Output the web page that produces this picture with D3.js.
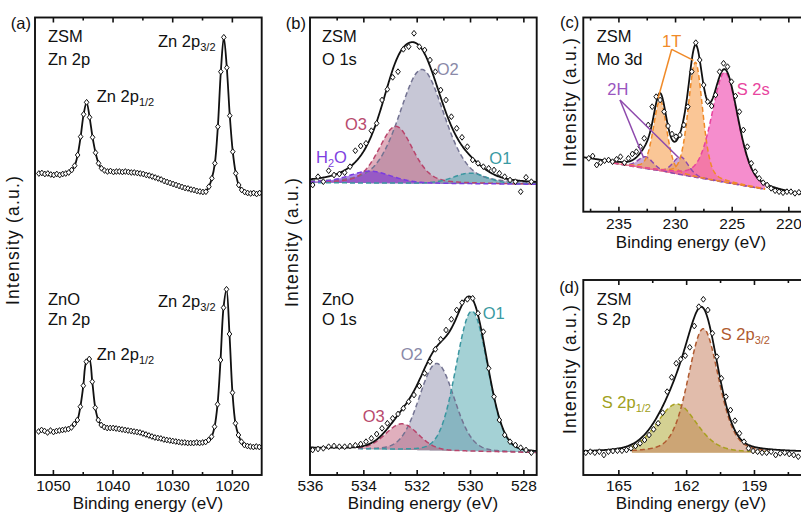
<!DOCTYPE html>
<html>
<head>
<meta charset="utf-8">
<script src="https://cdn.jsdelivr.net/npm/d3@7"></script>
<style>
  body { margin: 0; background: #fff; }
  text { font-family: "Liberation Sans", Arial, Helvetica, sans-serif; }
</style>
</head>
<body>
<svg id="chart" width="801" height="518"></svg>
<script>
// ---------------- Zn 2p survey (panel a) ----------------
const zn2pStep = 0.5;
const zn2pZsmStart = 1052.35;
const zn2pZnoStart = 1052.4;
const zn2pZsm = [51.5,52,51,51.5,50.5,50,51,50,51,51.5,52.5,55,59.3,70,88.3,110.7,122.7,107.7,87.7,72.3,
  61.7,56.7,54.5,53.5,54,53,53.5,53.5,53,53.5,53,52.5,52.5,52,51.5,51,50,49.5,48.5,47.5,
  46.5,45.5,44,43,42,41,40,39,38,37,36.5,35.5,35,34,33.5,33,33.3,38.3,46.7,61.7,
  98.3,153.3,187.7,157.3,109.3,73.3,51.7,40,35,33,32,31.5,32,31,32];
const zn2pZno = [43.5,45,44,42.5,44.5,43,44,44.5,45,45.5,46,47.5,51,55,68.3,89.3,113.3,116,93.3,67.3,
  55,50,48,47,47,47,46.5,46,45.5,45,44.5,44,43.5,43,42.5,41.5,40.5,39.5,38.5,37.5,
  37,36.5,35.5,35,34.5,34,33.5,33,32.5,32.5,32,32,32,32.5,32,32.5,33,35,38.3,48.3,
  70.7,115,167.3,185.7,141,82.3,51.7,40,33.3,30,29,28.5,28,28.5,28];

// ---------------- O 1s (panel b) ----------------
const o1sStep = 0.2;
const o1sStart = 535.9;
const o1sZsm = [25,33.3,28.3,39.3,35,36,37.3,43.3,59.3,64,66.7,79.3,86.7,110,120.7,132.7,138.3,160.7,163.3,176.7,
  163.3,160,150,138.3,120,110,93.3,81.7,72.7,63.3,50,46.7,43.3,41.7,40,36.7,33.3,30,28.3,18.3,32.7,28.3];
const o1sZno = [25,26,26.7,28.3,29,28.3,28.3,29,29.7,31,33.3,36.7,41,46.7,51.7,56.7,61,66.7,73.3,80,
  89,101.7,113.3,125.7,135.7,145,155.7,165,172.3,175.7,176.7,161.7,143.3,106.7,78.3,55,40,33.3,30,27.3,25,22.3];
// fitted components: centre (eV), height (a.u.), FWHM (eV), Lorentzian fraction
const o1sZsmPeaks = [
  { label: "O2",  center: 531.81, height: 114,  fwhm: 2.0, mix: 0.3 },
  { label: "O3",  center: 532.78, height: 57,   fwhm: 1.5, mix: 0.3 },
  { label: "O1",  center: 530.0,  height: 10.7, fwhm: 1.5, mix: 0.3 },
  { label: "H2O", center: 533.75, height: 12,   fwhm: 1.9, mix: 0.3 }
];
const o1sZnoPeaks = [
  { label: "O2", center: 531.25, height: 87,  fwhm: 1.55, mix: 0.1 },
  { label: "O1", center: 529.93, height: 140, fwhm: 1.4,  mix: 0.1 },
  { label: "O3", center: 532.55, height: 26,  fwhm: 1.45, mix: 0.1 }
];
const o1sZsmBackground = [[536, 27.3], [527.5, 25.7]];
const o1sZnoBackground = [[536, 27], [527.5, 22.5]];

// ---------------- Mo 3d (panel c) ----------------
const mo3dStep = 0.35;
const mo3dStart = 237.62;
const mo3dZsm = [53.4,55.7,46.7,49,51,51.7,50,52.4,55,49,53.4,57.7,60,65,73.4,86.7,105,115,111.7,100,
  85.7,77.7,75,76.7,86.7,105,140,169,151.7,126.7,110,105.7,116.7,140,148.4,145,130,115.7,100,81.7,
  65,48.4,40,33.4,29,26.7,23.4,21,20,19,20,20,18.4,19.4];
const mo3dPeaks = [
  { label: "2H",   center: 232.6,  height: 12,  fwhm: 1.6, mix: 0.3 },
  { label: "2H",   center: 229.5,  height: 18,  fwhm: 1.6, mix: 0.3 },
  { label: "1T",   center: 231.32, height: 71,  fwhm: 1.4, mix: 0.3 },
  { label: "1T",   center: 228.2,  height: 115, fwhm: 1.5, mix: 0.3 },
  { label: "S 2s", center: 225.6,  height: 110, fwhm: 2.7, mix: 0.3 }
];
const mo3dBackground = [[235.44, 48.4], [222.05, 22.4]];

// ---------------- S 2p (panel d) ----------------
const s2pStep = 0.2;
const s2pStart = 166.44;
const s2pZsm = [22.3,23.3,22.3,23.3,20,23.3,24,24.3,24.3,25,26.7,29,31.7,35,40,45.7,51.7,62.3,83.3,97.7,
  111.7,115.7,119.3,127.7,149,168.3,175.7,165,141.7,118.3,96.7,78.3,65,54.3,41.7,33.3,26.7,24,23.3,22.3,
  22.3,23.3,20,21.7,22.3,21,20,18.3];
const s2pPeaks = [
  { label: "S 2p1/2", center: 162.42, height: 48.7, fwhm: 2.1, mix: 0.3 },
  { label: "S 2p3/2", center: 161.24, height: 124,  fwhm: 1.6, mix: 0.3 }
];
const s2pBackground = [[164.4, 22.3], [158.36, 22.3]];

// ---------------- axis ticks ----------------
const ticksA = [1050, 1040, 1030, 1020], minorA = [1045, 1035, 1025];
const ticksB = [536, 534, 532, 530, 528], minorB = [535, 533, 531, 529];
const ticksC = [235, 230, 225, 220], minorC = [237.5, 232.5, 227.5, 222.5];
const ticksD = [165, 162, 159], minorD = [163.5, 160.5, 157.5];

// ---------------- styles ----------------
const peakStyle = {
  "O1":      { fill: "#4aa3ac", stroke: "#3a96a0", text: "#3a9aa2" },
  "O2":      { fill: "#9090ae", stroke: "#737392", text: "#8a89a8" },
  "O3":      { fill: "#c2607c", stroke: "#b8456c", text: "#b84a6e" },
  "H2O":     { fill: "#7a34d8", stroke: "#7b3ce0", text: "#7e3fe0" },
  "1T":      { fill: "#f7a050", stroke: "#f08a28", text: "#f08a28" },
  "2H":      { fill: "#8a48a8", stroke: "#8e4aad", text: "#9a55c0" },
  "S 2s":    { fill: "#f050b2", stroke: "#e8449e", text: "#e8449e" },
  "S 2p3/2": { fill: "#c47a58", stroke: "#b05a30", text: "#b05a30" },
  "S 2p1/2": { fill: "#aaa428", stroke: "#a8a020", text: "#a0a020" }
};
const fillOpacity = { "O1": 0.5, "O2": 0.5, "O3": 0.5, "H2O": 0.6, "1T": 0.6, "2H": 0.45,
  "S 2s": 0.65, "S 2p3/2": 0.5, "S 2p1/2": 0.5 };
const ink = "#111";

// Gaussian-Lorentzian (pseudo-Voigt) line shape used for the fitted components
function lineShape(E, p) {
  const u = (E - p.center) / p.fwhm;
  const g = Math.exp(-4 * Math.LN2 * u * u);
  const l = 1 / (1 + 4 * u * u);
  return p.height * ((1 - p.mix) * g + p.mix * l);
}
function linearBackground(anchors) {
  const [[e0, v0], [e1, v1]] = anchors;
  return E => v0 + (v1 - v0) * (E - e0) / (e1 - e0);
}

const svg = d3.select("#chart");
svg.append("rect").attr("width", 801).attr("height", 518).attr("fill", "#fff");

function makePanel(o) {
  const x = d3.scaleLinear().domain(o.domain).range([o.left, o.right]);
  const y = d3.scaleLinear().domain([0, o.bottom - o.top]).range([o.bottom, o.top]);
  const clipId = "clip-" + o.key;
  svg.append("clipPath").attr("id", clipId).append("rect")
    .attr("x", o.left).attr("y", o.top)
    .attr("width", o.right - o.left).attr("height", o.bottom - o.top);
  const plot = svg.append("g").attr("clip-path", `url(#${clipId})`);
  return { x, y, plot, o };
}

function finishPanel(p, major, minor, labelOffset, titleOffset) {
  const { x, o } = p;
  const g = svg.append("g");
  const bottom = g.append("g").attr("transform", `translate(0,${o.bottom})`)
    .call(d3.axisBottom(x).tickValues(major).tickSizeInner(-5).tickSizeOuter(0)
      .tickPadding(labelOffset).tickFormat(d3.format("d")));
  bottom.selectAll("text").attr("font-size", 15.5).style("fill", ink)
    .attr("font-family", "Liberation Sans, Arial, sans-serif");
  g.append("g").attr("transform", `translate(0,${o.bottom})`)
    .call(d3.axisBottom(x).tickValues(minor).tickSizeInner(-3).tickSizeOuter(0).tickFormat(""));
  g.append("g").attr("transform", `translate(0,${o.top})`)
    .call(d3.axisTop(x).tickValues(major).tickSizeInner(-5).tickSizeOuter(0).tickFormat(""));
  g.append("g").attr("transform", `translate(0,${o.top})`)
    .call(d3.axisTop(x).tickValues(minor).tickSizeInner(-3).tickSizeOuter(0).tickFormat(""));
  g.selectAll(".domain").remove();
  g.selectAll(".tick line").attr("stroke", ink).attr("stroke-width", 1.6);
  g.selectAll(".tick").filter(d => d <= Math.min(...o.domain) || d >= Math.max(...o.domain))
    .select("line").remove();
  svg.append("rect").attr("x", o.left).attr("y", o.top)
    .attr("width", o.right - o.left).attr("height", o.bottom - o.top)
    .attr("fill", "none").attr("stroke", ink).attr("stroke-width", 1.9);
  svg.append("text").attr("x", o.titleX)
    .attr("y", o.bottom + titleOffset).attr("text-anchor", "middle").style("fill", ink)
    .attr("font-size", 17).text("Binding energy (eV)");
  svg.append("text").attr("transform", `translate(${o.yTitleX},${o.yTitleY}) rotate(-90)`)
    .attr("text-anchor", "middle").attr("font-size", 17.5).attr("letter-spacing", 1.2)
    .style("fill", ink).text("Intensity (a.u.)");
  svg.append("text").attr("x", o.left - 4).attr("y", o.tagY).attr("text-anchor", "end")
    .attr("font-size", 16.5).style("fill", ink).text(o.tag);
}

const diamond = "M0,-2.9L2.3,0L0,2.9L-2.3,0Z";
function drawPoints(p, start, step, values, offset) {
  const pts = values.map((v, i) => ({ E: start - i * step, v: v + offset }));
  p.plot.append("g").selectAll("path").data(pts).join("path")
    .attr("d", diamond)
    .attr("transform", d => `translate(${p.x(d.E)},${p.y(d.v)})`)
    .attr("fill", "#fff").attr("stroke", ink).attr("stroke-width", 1);
  return pts;
}

function sampleRange(a, b, n) {
  return d3.range(n + 1).map(k => a + (b - a) * k / n);
}

function drawFit(p, peaks, bgAnchors, range, offset) {
  const bg = linearBackground(bgAnchors);
  const grid = sampleRange(range[0], range[1], 300);
  const area = d3.area().x(d => p.x(d.E)).y0(d => p.y(d.b)).y1(d => p.y(d.t));
  const line = d3.line().x(d => p.x(d.E)).y(d => p.y(d.t));
  const comps = peaks.map(pk => grid.map(E => ({ E, b: bg(E) + offset, t: bg(E) + offset + lineShape(E, pk) })));
  const fills = p.plot.append("g");
  const edges = p.plot.append("g");
  peaks.forEach((pk, i) => {
    const st = peakStyle[pk.label];
    fills.append("path").attr("d", area(comps[i]))
      .attr("fill", st.fill).attr("fill-opacity", fillOpacity[pk.label]);
  });
  peaks.forEach((pk, i) => {
    const st = peakStyle[pk.label];
    edges.append("path").attr("d", line(comps[i])).attr("fill", "none")
      .attr("stroke", st.stroke).attr("stroke-width", 1.5).attr("stroke-dasharray", "5,3");
  });
  // envelope: background plus all components across the whole window
  const full = sampleRange(p.o.domain[0], p.o.domain[1], 400)
    .map(E => ({ E, t: bg(E) + offset + d3.sum(peaks, pk => lineShape(E, pk)) }));
  p.plot.append("path").attr("d", line(full)).attr("fill", "none")
    .attr("stroke", ink).attr("stroke-width", 1.8);
  return { bg };
}

function label(x, y, main, sub, color, size, after) {
  const t = svg.append("text").attr("x", x).attr("y", y).attr("font-size", size || 16.5)
    .style("fill", color || ink);
  t.append("tspan").text(main);
  if (sub) {
    t.append("tspan").attr("font-size", 11).attr("dy", 4).text(sub);
    if (after) t.append("tspan").attr("dy", -4).text(after);
  }
  return t;
}

// ---------------- panel (a) ----------------
const pA = makePanel({ key: "a", left: 35, right: 261.7, top: 17.5, bottom: 475, domain: [1053, 1015],
  titleX: 148, yTitleX: 19, yTitleY: 240, tag: "(a)", tagY: 29 });
const zsmShift = 250;
[[zn2pZsmStart, zn2pZsm, zsmShift], [zn2pZnoStart, zn2pZno, 0]].forEach(([s, vals, off]) => {
  const pts = vals.map((v, i) => ({ E: s - i * zn2pStep, v: v + off }));
  pA.plot.append("path").attr("d", d3.line().x(d => pA.x(d.E)).y(d => pA.y(d.v)).curve(d3.curveCatmullRom)(pts))
    .attr("fill", "none").attr("stroke", ink).attr("stroke-width", 1.8);
  drawPoints(pA, s, zn2pStep, vals, off);
});
finishPanel(pA, ticksA, minorA, 5, 34);
label(48, 41.7, "ZSM"); label(48, 65, "Zn 2p");
label(158, 47, "Zn 2p", "3/2"); label(96.7, 101.7, "Zn 2p", "1/2");
label(48, 305, "ZnO"); label(48, 325, "Zn 2p");
label(158, 306.7, "Zn 2p", "3/2"); label(96.7, 360, "Zn 2p", "1/2");

// ---------------- panel (b) ----------------
const pB = makePanel({ key: "b", left: 310, right: 536.7, top: 17.5, bottom: 475, domain: [536, 527.5],
  titleX: 423, yTitleX: 298, yTitleY: 242, tag: "(b)", tagY: 29 });
const o1sZsmShift = 265;
drawFit(pB, o1sZsmPeaks, o1sZsmBackground, [536, 527.5], o1sZsmShift);
drawPoints(pB, o1sStart, o1sStep, o1sZsm, o1sZsmShift);
drawFit(pB, o1sZnoPeaks, o1sZnoBackground, [534.2, 527.5], 0);
drawPoints(pB, o1sStart, o1sStep, o1sZno, 0);
finishPanel(pB, ticksB, minorB, 5, 34);
label(322, 41.7, "ZSM"); label(322, 65, "O 1s");
label(436.7, 75, "O2", null, peakStyle["O2"].text);
label(345, 130, "O3", null, peakStyle["O3"].text);
label(316, 163.3, "H", "2", peakStyle["H2O"].text, 16.5, "O");
label(489.3, 164, "O1", null, peakStyle["O1"].text);
label(322, 305, "ZnO"); label(322, 325, "O 1s");
label(482.7, 319.3, "O1", null, peakStyle["O1"].text);
label(400.7, 360, "O2", null, peakStyle["O2"].text);
label(362.7, 421.7, "O3", null, peakStyle["O3"].text);

// ---------------- panel (c) ----------------
const pC = makePanel({ key: "c", left: 583.3, right: 804.2, top: 17.5, bottom: 211.7, domain: [238.1, 218.6],
  titleX: 691, yTitleX: 576, yTitleY: 102, tag: "(c)", tagY: 28 });
const fitC = drawFit(pC, mo3dPeaks, mo3dBackground, [235.44, 222.05], 0);
drawPoints(pC, mo3dStart, mo3dStep, mo3dZsm, 0);
finishPanel(pC, ticksC, minorC, 6, 36);
label(596.7, 41.7, "ZSM"); label(596.7, 65, "Mo 3d");
label(662, 46.7, "1T", null, peakStyle["1T"].text);
label(607.3, 95, "2H", null, peakStyle["2H"].text);
label(736.7, 95, "S 2s", null, peakStyle["S 2s"].text);
// pointer lines from the state labels to their component maxima
const peakTop = pk => [pC.x(pk.center), pC.y(fitC.bg(pk.center) + pk.height)];
const pointer = svg.append("g").attr("fill", "none").attr("stroke-width", 1.5);
mo3dPeaks.filter(pk => pk.label === "1T").forEach(pk => {
  const [px, py] = peakTop(pk);
  pointer.append("line").attr("x1", 671.7).attr("y1", 49.3).attr("x2", px - 2).attr("y2", py - 2)
    .attr("stroke", peakStyle["1T"].stroke);
});
mo3dPeaks.filter(pk => pk.label === "2H").forEach(pk => {
  const [px, py] = peakTop(pk);
  pointer.append("line").attr("x1", 620).attr("y1", 100).attr("x2", px - 2).attr("y2", py + 1)
    .attr("stroke", peakStyle["2H"].stroke);
});

// ---------------- panel (d) ----------------
const pD = makePanel({ key: "d", left: 583.3, right: 803.7, top: 280, bottom: 475, domain: [166.55, 156.8],
  titleX: 691, yTitleX: 576, yTitleY: 369, tag: "(d)", tagY: 293 });
drawFit(pD, s2pPeaks, s2pBackground, [164.4, 158.36], 0);
drawPoints(pD, s2pStart, s2pStep, s2pZsm, 0);
finishPanel(pD, ticksD, minorD, 5, 34);
label(596.7, 305, "ZSM"); label(596.7, 325, "S 2p");
label(720.7, 340, "S 2p", "3/2", peakStyle["S 2p3/2"].text);
label(601.7, 408.3, "S 2p", "1/2", peakStyle["S 2p1/2"].text);
</script>
</body>
</html>
